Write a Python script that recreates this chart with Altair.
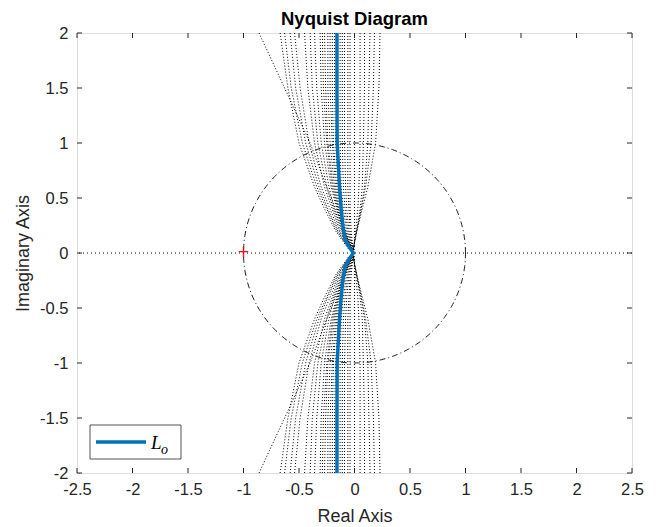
import altair as alt
import pandas as pd
import numpy as np

# ---------------- data ----------------
IM_LEVELS = [2.0, 1.5, 1.0, 0.6, 0.4, 0.2, 0.1, 0.03]
FAN_RE = [
    [-0.67, -0.60, -0.50, -0.36, -0.27, -0.17, -0.10, -0.05],
    [-0.63, -0.57, -0.47, -0.34, -0.25, -0.16, -0.09, -0.04],
    [-0.58, -0.53, -0.44, -0.32, -0.24, -0.15, -0.09, -0.04],
    [-0.54, -0.49, -0.41, -0.30, -0.22, -0.14, -0.08, -0.04],
    [-0.45, -0.42, -0.36, -0.27, -0.20, -0.13, -0.08, -0.03],
    [-0.40, -0.38, -0.33, -0.25, -0.19, -0.12, -0.07, -0.03],
    [-0.36, -0.34, -0.30, -0.23, -0.18, -0.11, -0.07, -0.03],
    [-0.31, -0.30, -0.27, -0.21, -0.16, -0.11, -0.06, -0.02],
    [-0.29, -0.28, -0.25, -0.20, -0.155, -0.10, -0.06, -0.02],
    [-0.27, -0.26, -0.24, -0.19, -0.15, -0.10, -0.06, -0.02],
    [-0.24, -0.24, -0.22, -0.18, -0.145, -0.095, -0.055, -0.02],
    [-0.22, -0.22, -0.20, -0.17, -0.14, -0.09, -0.05, -0.02],
    [-0.20, -0.20, -0.19, -0.16, -0.13, -0.085, -0.05, -0.02],
    [-0.18, -0.18, -0.17, -0.15, -0.12, -0.08, -0.05, -0.02],
    [-0.13, -0.13, -0.13, -0.12, -0.10, -0.07, -0.04, -0.01],
    [-0.11, -0.11, -0.11, -0.10, -0.085, -0.06, -0.035, -0.01],
    [-0.09, -0.09, -0.09, -0.08, -0.07, -0.05, -0.03, -0.01],
    [-0.06, -0.06, -0.06, -0.06, -0.05, -0.04, -0.025, -0.01],
    [-0.04, -0.04, -0.04, -0.04, -0.04, -0.03, -0.02, -0.01],
    [0.00, 0.00, 0.00, 0.00, 0.00, 0.00, 0.00, 0.00],
    [0.05, 0.05, 0.05, 0.04, 0.03, 0.01, 0.00, -0.01],
    [0.09, 0.09, 0.08, 0.07, 0.05, 0.02, 0.00, -0.01],
    [0.14, 0.13, 0.12, 0.09, 0.06, 0.02, 0.00, -0.01],
    [0.18, 0.17, 0.15, 0.10, 0.06, 0.02, 0.00, -0.01],
    [0.23, 0.22, 0.19, 0.12, 0.07, 0.02, 0.00, -0.01],
    [-0.86, -0.63, -0.40, -0.25, -0.17, -0.09, -0.05, -0.02],
]
BLUE_IM = [2.0, 1.5, 1.0, 0.6, 0.4, 0.25, 0.12, 0.05, 0.0]
BLUE_RE = [-0.158, -0.158, -0.156, -0.135, -0.12, -0.105, -0.085, -0.045, -0.01]
CRIT_RE = [-1.0]
CRIT_IM = [0.0]
X_TICKS = [-2.5, -2, -1.5, -1, -0.5, 0, 0.5, 1, 1.5, 2, 2.5]
Y_TICKS = [-2, -1.5, -1, -0.5, 0, 0.5, 1, 1.5, 2]

# ---------------- tables ----------------
rows = []
cid = 0
for re_list in FAN_RE:
    for sign in (1, -1):
        for k, (re, im) in enumerate(zip(re_list, IM_LEVELS)):
            rows.append({"c": cid, "o": k, "re": re, "im": sign * im})
        cid += 1
fan = pd.DataFrame(rows)

blue_rows = []
k = 0
for re, im in zip(BLUE_RE, BLUE_IM):
    blue_rows.append({"o": k, "re": re, "im": im}); k += 1
for re, im in zip(BLUE_RE[-2::-1], BLUE_IM[-2::-1]):
    blue_rows.append({"o": k, "re": re, "im": -im}); k += 1
blue = pd.DataFrame(blue_rows)

th = np.linspace(0, 2 * np.pi, 361)
circ = pd.DataFrame({"o": np.arange(len(th)), "re": np.cos(th), "im": np.sin(th)})
crit = pd.DataFrame({"re": CRIT_RE, "im": CRIT_IM})
xt = pd.DataFrame({"t": X_TICKS})
yt = pd.DataFrame({"t": Y_TICKS})

W, H = 555, 440
FONT = "Liberation Sans"
AX = "#262626"

xscale = alt.Scale(domain=[-2.5, 2.5], nice=False, zero=False)
yscale = alt.Scale(domain=[-2, 2], nice=False, zero=False)
xaxis = alt.Axis(values=X_TICKS, labelExpr="'' + datum.value", domain=False, ticks=False,
                 grid=False, title="Real Axis", labelFont=FONT, labelFontSize=16.5,
                 labelColor=AX, titleFont=FONT, titleFontSize=18, titleColor=AX,
                 titleFontWeight="normal", labelPadding=8, titlePadding=10, labelFlush=False)
yaxis = alt.Axis(values=Y_TICKS, labelExpr="'' + datum.value", domain=False, ticks=False,
                 grid=False, title="Imaginary Axis", labelFont=FONT, labelFontSize=16.5,
                 labelColor=AX, titleFont=FONT, titleFontSize=18, titleColor=AX,
                 titleFontWeight="normal", labelPadding=9, titlePadding=7, labelFlush=False)


def X(f="re"):
    return alt.X(f"{f}:Q", scale=xscale, axis=xaxis)


def Y(f="im"):
    return alt.Y(f"{f}:Q", scale=yscale, axis=yaxis)


fan_l = alt.Chart(fan).mark_line(color="black", strokeWidth=1, strokeDash=[1, 2],
                                 clip=True).encode(
    x=X(), y=Y(), detail="c:N", order="o:Q")
circ_l = alt.Chart(circ).mark_line(color="black", strokeWidth=0.9,
                                   strokeDash=[6, 3, 1, 3]).encode(
    x=X(), y=Y(), order="o:Q")
zero_l = alt.Chart(crit).mark_rule(color="black", strokeWidth=1, strokeDash=[1, 3]).encode(
    y=alt.Y("z:Q", scale=yscale, axis=yaxis)).transform_calculate(z="0")
blue_l = alt.Chart(blue).mark_line(color="#0072BD", strokeWidth=3.5, clip=True).encode(
    x=X(), y=Y(), order="o:Q")
crit_p = alt.Chart(crit).mark_text(text="+", font="DejaVu Sans", fontSize=15,
                                   color="#FF0000", align="center", baseline="middle",
                                   dy=-1).encode(x=X(), y=Y())

tick_b = alt.Chart(xt).mark_rule(color=AX, strokeWidth=1).encode(
    x=X("t"), y=alt.value(H), y2=alt.value(H - 5))
tick_t = alt.Chart(xt).mark_rule(color=AX, strokeWidth=1).encode(
    x=X("t"), y=alt.value(0), y2=alt.value(5))
tick_l = alt.Chart(yt).mark_rule(color=AX, strokeWidth=1).encode(
    y=Y("t"), x=alt.value(0), x2=alt.value(5))
tick_r = alt.Chart(yt).mark_rule(color=AX, strokeWidth=1).encode(
    y=Y("t"), x=alt.value(W), x2=alt.value(W - 5))

leg_box = alt.Chart(crit).mark_rect(fill="white", stroke=AX, strokeWidth=0.8).encode(
    x=alt.value(13), x2=alt.value(104), y=alt.value(392), y2=alt.value(426))
leg_line = alt.Chart(crit).mark_rule(color="#0072BD", strokeWidth=3.5).encode(
    x=alt.value(19), x2=alt.value(69), y=alt.value(409))
leg_L = alt.Chart(crit).mark_text(text="L", font="Liberation Serif", fontStyle="italic",
                                  fontSize=19, align="left", baseline="alphabetic",
                                  color="black").encode(x=alt.value(74), y=alt.value(416))
leg_o = alt.Chart(crit).mark_text(text="o", font="Liberation Serif", fontStyle="italic",
                                  fontSize=14, align="left", baseline="alphabetic",
                                  color="black").encode(x=alt.value(84), y=alt.value(421))

chart = alt.layer(
    fan_l, circ_l, zero_l, blue_l, crit_p,
    tick_b, tick_t, tick_l, tick_r,
    leg_box, leg_line, leg_L, leg_o,
).properties(
    width=W, height=H,
    title=alt.TitleParams("Nyquist Diagram", font=FONT, fontSize=18.5, fontWeight="bold",
                          color="black", offset=0, dy=3),
    autosize=alt.AutoSizeParams(type="none"),
    padding={"left": 77, "top": 33, "right": 24, "bottom": 54},
).configure_view(stroke=AX, strokeWidth=1).configure(background="white")

chart.save("out.html", embed_options={"renderer": "svg", "actions": False})
